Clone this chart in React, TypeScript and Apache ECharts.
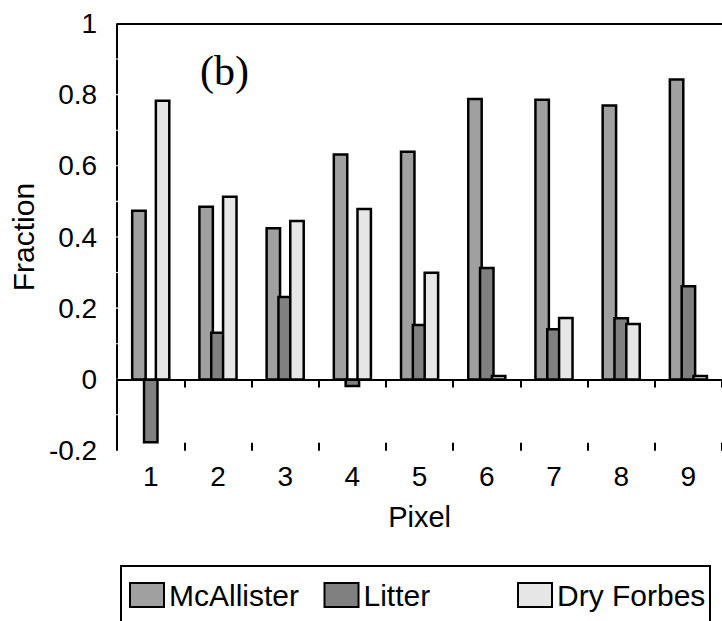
import React, { useEffect, useRef } from "react";
import * as echarts from "echarts";

const categories = ["1", "2", "3", "4", "5", "6", "7", "8", "9"];
const mcallister = [0.474, 0.485, 0.425, 0.632, 0.64, 0.788, 0.786, 0.77, 0.843];
const litter = [-0.176, 0.131, 0.232, -0.018, 0.153, 0.313, 0.141, 0.172, 0.262];
const dryForbes = [0.783, 0.513, 0.445, 0.479, 0.3, 0.01, 0.173, 0.156, 0.01];
const seriesNames = ["McAllister", "Litter", "Dry Forbes"];
const yTickLabels = ["-0.2", "0", "0.2", "0.4", "0.6", "0.8", "1"];
const yMin = -0.2;
const yMax = 1;
const yStep = 0.2;

const SANS = "Liberation Sans, Arial, sans-serif";
const SERIF = "Liberation Serif, Times New Roman, serif";

export default function App() {
  const ref = useRef<HTMLDivElement>(null);
  useEffect(() => {
    if (!ref.current) return;
    const chart = echarts.init(ref.current, null, { renderer: "svg" });
    const colors = ["#a0a0a0", "#808080", "#e6e6e6"];
    const datas = [mcallister, litter, dryForbes];
    // bar width and centre offsets as fractions of the category band
    const barFrac = 0.2;
    const offsetFrac = [-0.176, 0, 0.176];
    const legendLefts = [129, 323.5, 517];

    const makeRender = (i: number) => (params: any, api: any) => {
      const cat = api.value(0);
      const val = api.value(1);
      const base = api.coord([cat, 0]);
      const tip = api.coord([cat, val]);
      const band = api.size([1, 0])[0];
      const w = band * barFrac;
      const cx = base[0] + band * offsetFrac[i];
      const y = Math.min(base[1], tip[1]);
      const h = Math.abs(tip[1] - base[1]);
      return {
        type: "rect",
        shape: { x: cx - w / 2, y, width: w, height: h },
        style: { fill: colors[i], stroke: "#000", lineWidth: 2.5 },
      };
    };

    chart.setOption({
      animation: false,
      grid: { left: 116, right: -8.5, top: 23.5, bottom: 170.3, containLabel: false },
      xAxis: [
        {
          type: "category",
          data: categories,
          position: "bottom",
          axisLine: { show: true, lineStyle: { color: "#000", width: 2 } },
          axisTick: { show: true, length: 8, lineStyle: { color: "#000", width: 2 } },
          axisLabel: { fontFamily: SANS, fontSize: 28, color: "#000", margin: 12 },
          name: "Pixel",
          nameLocation: "middle",
          nameGap: 52,
          nameTextStyle: { fontFamily: SANS, fontSize: 29, color: "#000" },
          splitLine: { show: false },
        },
        {
          type: "category",
          data: categories,
          position: "top",
          axisLine: { show: true, lineStyle: { color: "#000", width: 2 } },
          axisTick: { show: false },
          axisLabel: { show: false },
          splitLine: { show: false },
        },
        {
          type: "category",
          data: categories,
          position: "bottom",
          axisLine: { show: false },
          axisTick: { show: true, inside: true, length: 8, lineStyle: { color: "#000", width: 2 } },
          axisLabel: { show: false },
          splitLine: { show: false },
        },
      ],
      yAxis: {
        type: "value",
        min: yMin,
        max: yMax,
        interval: yStep,
        axisLine: {
          show: true,
          lineStyle: { color: "#000", width: 2, type: [33, 2.58], dashOffset: 34.29 },
        },
        axisTick: { show: false },
        splitLine: { show: false },
        axisLabel: {
          fontFamily: SANS,
          fontSize: 28,
          color: "#000",
          margin: 20,
          formatter: (v: number) => yTickLabels[Math.round((v - yMin) / yStep)] ?? "",
        },
        name: "Fraction",
        nameLocation: "middle",
        nameGap: 77,
        nameTextStyle: { fontFamily: SANS, fontSize: 30, color: "#000" },
      },
      legend: seriesNames.map((n, i) => ({
        data: [n],
        left: legendLefts[i],
        top: 580,
        padding: 0,
        itemWidth: 34,
        itemHeight: 24,
        icon: "rect",
        selectedMode: false,
        itemStyle: { color: colors[i], borderColor: "#000", borderWidth: 2 },
        textStyle: { fontFamily: SANS, fontSize: 30, color: "#000" },
      })),
      series: seriesNames.map((n, i) => ({
        type: "custom",
        name: n,
        xAxisIndex: 0,
        yAxisIndex: 0,
        renderItem: makeRender(i),
        encode: { x: 0, y: 1 },
        data: datas[i].map((v, j) => [j, v]),
        itemStyle: { color: colors[i], borderColor: "#000", borderWidth: 2 },
        ...(i === 0
          ? {
              markLine: {
                silent: true,
                symbol: "none",
                label: { show: false },
                lineStyle: { color: "#000", type: "solid", width: 2 },
                data: [{ yAxis: 0 }],
              },
            }
          : {}),
      })),
      graphic: [
        {
          type: "text",
          left: 200,
          top: 50,
          style: { text: "(b)", fontFamily: SERIF, fontSize: 42, fill: "#000" },
        },
        {
          type: "polyline",
          shape: { points: [[121, 640], [121, 566], [710, 566], [710, 640]] },
          style: { stroke: "#000", lineWidth: 2, fill: "none" },
        },
      ],
    });
    return () => chart.dispose();
  }, []);
  return (
    <div
      ref={ref}
      style={{ position: "fixed", left: 0, top: 0, width: 722, height: 621, background: "#fff" }}
    />
  );
}
